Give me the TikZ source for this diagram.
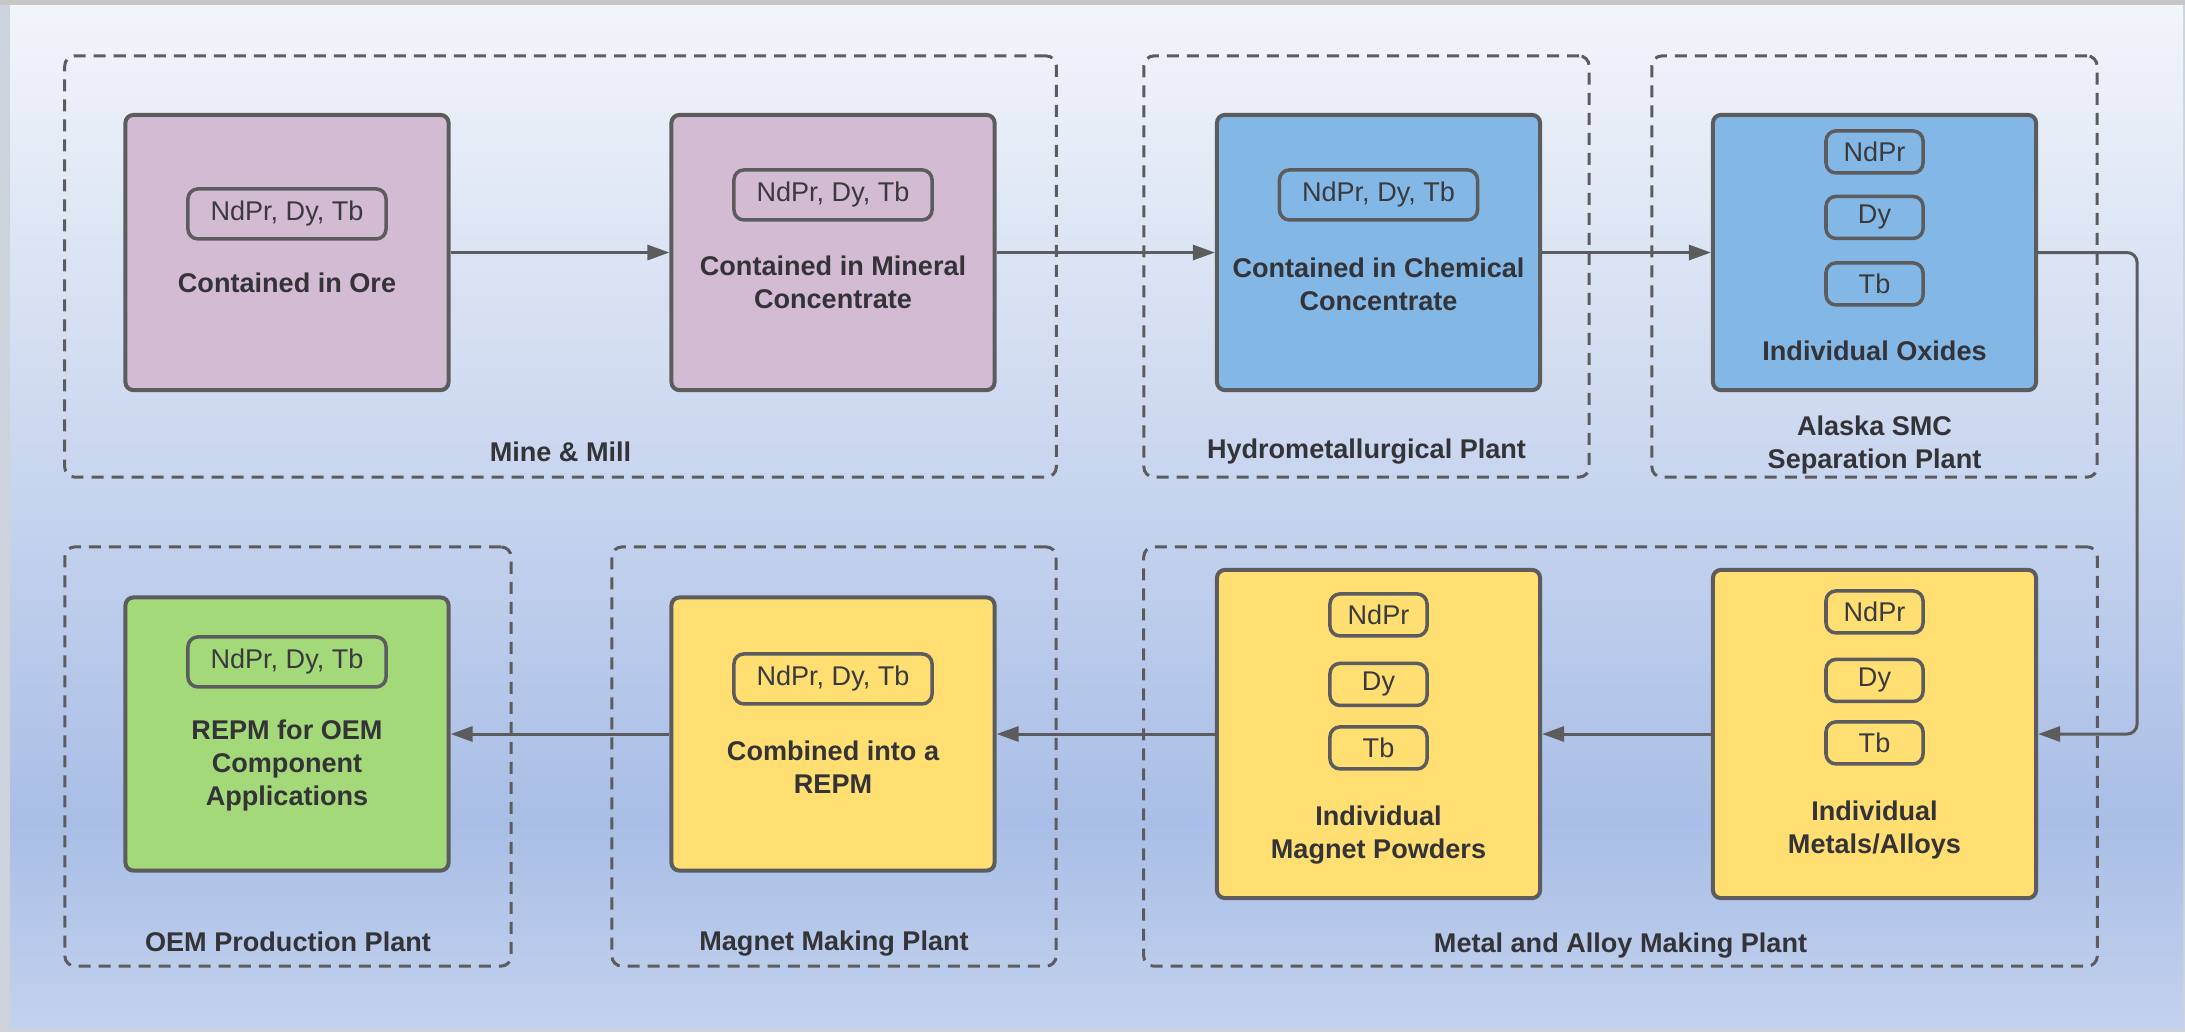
\documentclass[tikz,border=0pt]{standalone}
\usepackage{fontspec}
\setmainfont{Liberation Sans}
\usepackage{xcolor}
\usepackage{tikz}
\usetikzlibrary{positioning,calc}
\usetikzlibrary{arrows.meta,shapes}

\definecolor{edgegray}{HTML}{5C5C5E}
\definecolor{captext}{HTML}{333338}
\definecolor{tagtext}{HTML}{3A3A3E}
\definecolor{orefill}{HTML}{D3BCD3}
\definecolor{chemfill}{HTML}{83B8E6}
\definecolor{metalfill}{HTML}{FFDE72}
\definecolor{oemfill}{HTML}{A3D978}
\definecolor{bgtop}{HTML}{F2F5FA}
\definecolor{bgmid}{HTML}{A9BEE6}
\definecolor{bgbot}{HTML}{C3D2ED}
\definecolor{framegray}{HTML}{CDD3DD}
\pgfdeclareverticalshading{panelshade}{100bp}{color(0bp)=(bgbot); color(25bp)=(bgbot); color(35bp)=(bgmid); color(75bp)=(bgtop); color(100bp)=(bgtop)}

\newcommand{\lblsize}{\fontsize{7.7}{9.4}\selectfont}
\tikzstyle{line} = [draw=edgegray, line width=0.3mm, -{Triangle[length=2.2mm,width=1.5mm]}]
\tikzstyle{plant} = [rectangle, draw=edgegray, line width=0.3mm, dash pattern=on 1.2mm off 0.8mm, rounded corners=1mm]
\tikzstyle{stage} = [rectangle, draw=edgegray, line width=0.4mm, rounded corners=0.8mm, minimum width=3.23cm]
\tikzstyle{tag} = [rectangle, draw=edgegray, line width=0.35mm, rounded corners=1mm, inner sep=0pt, minimum width=1.98cm, minimum height=0.5cm, font=\lblsize, text=tagtext]
\tikzstyle{elem} = [tag, minimum width=0.97cm, minimum height=0.42cm]
\tikzstyle{caption} = [align=center, font=\lblsize\bfseries, text=captext]

\begin{document}
\begin{tikzpicture}[x=0.01cm,y=-0.01cm]
        \useasboundingbox (0,0) rectangle (2185,1032);
        % backdrop
        \fill[framegray] (0,0) rectangle (2185,1032);
        \fill[gray!45] (0,0) rectangle (2185,5);
        \shade[shading=panelshade] (10,5) rectangle (2183,1028);

        % plants
        \node[plant,minimum width=9.91cm,minimum height=4.21cm] (mine) at (560.5,266.5) {};
        \node[plant,minimum width=4.45cm,minimum height=4.21cm] (hydro) at (1366.5,266.5) {};
        \node[plant,minimum width=4.45cm,minimum height=4.21cm] (sep) at (1874.5,266.5) {};
        \node[plant,minimum width=4.46cm,minimum height=4.19cm] (oemplant) at (288,756.5) {};
        \node[plant,minimum width=4.44cm,minimum height=4.19cm] (magnet) at (834,756.5) {};
        \node[plant,minimum width=9.53cm,minimum height=4.19cm] (alloy) at (1620.5,756.5) {};
        \node[caption] at ($(mine.south)+(0,-27)$) {Mine \& Mill};
        \node[caption] at ($(hydro.south)+(0,-27)$) {Hydrometallurgical Plant};
        \node[caption] at ($(sep.south)+(0,-34)$) {Alaska SMC\\Separation Plant};
        \node[caption] at ($(oemplant.south)+(0,-26)$) {OEM Production Plant};
        \node[caption] at ($(magnet.south)+(0,-24)$) {Magnet Making Plant};
        \node[caption] at ($(alloy.south)+(0,-22)$) {Metal and Alloy Making Plant};

        % top row
        \node[stage,fill=orefill,minimum height=2.75cm] (ore) at (287,252.5) {};
        \node[tag] (oretag) at ($(ore.north)+(0,101)$) {NdPr, Dy, Tb};
        \node[caption] at ($(ore.north)+(0,170)$) {Contained in Ore};

        \node[stage,fill=orefill,minimum height=2.75cm] (mineral) at (833,252.5) {};
        \node[tag] (mineraltag) at ($(mineral.north)+(0,82)$) {NdPr, Dy, Tb};
        \node[caption] at ($(mineral.north)+(0,169)$) {Contained in Mineral\\Concentrate};

        \node[stage,fill=chemfill,minimum height=2.75cm] (chem) at (1378.5,252.5) {};
        \node[tag] (chemtag) at ($(chem.north)+(0,82)$) {NdPr, Dy, Tb};
        \node[caption] at ($(chem.north)+(0,171)$) {Contained in Chemical\\Concentrate};

        \node[stage,fill=chemfill,minimum height=2.75cm] (oxides) at (1874.5,252.5) {};
        \node[elem] (oxnd) at ($(oxides.north)+(0,39)$) {NdPr};
        \node[elem] (oxdy) at ($(oxides.north)+(0,104.5)$) {Dy};
        \node[elem] (oxtb) at ($(oxides.north)+(0,171)$) {Tb};
        \node[caption] at ($(oxides.north)+(0,238)$) {Individual Oxides};

        % bottom row
        \node[stage,fill=metalfill,minimum height=3.28cm] (metals) at (1874.5,734) {};
        \node[elem] (mend) at ($(metals.north)+(0,44)$) {NdPr};
        \node[elem] (medy) at ($(metals.north)+(0,112.5)$) {Dy};
        \node[elem] (metb) at ($(metals.north)+(0,175)$) {Tb};
        \node[caption] at ($(metals.north)+(0,262)$) {Individual\\Metals/Alloys};

        \node[stage,fill=metalfill,minimum height=3.28cm] (powders) at (1378.5,734) {};
        \node[elem] (pwnd) at ($(powders.north)+(0,47)$) {NdPr};
        \node[elem] (pwdy) at ($(powders.north)+(0,116.5)$) {Dy};
        \node[elem] (pwtb) at ($(powders.north)+(0,180)$) {Tb};
        \node[caption] at ($(powders.north)+(0,267.5)$) {Individual\\Magnet Powders};

        \node[stage,fill=metalfill,minimum height=2.73cm] (repm) at (833,734) {};
        \node[tag] (repmtag) at ($(repm.north)+(0,83.5)$) {NdPr, Dy, Tb};
        \node[caption] at ($(repm.north)+(0,172)$) {Combined into a\\REPM};

        \node[stage,fill=oemfill,minimum height=2.73cm] (oem) at (287,734) {};
        \node[tag] (oemtag) at ($(oem.north)+(0,66.5)$) {NdPr, Dy, Tb};
        \node[caption] at ($(oem.north)+(0,170)$) {REPM for OEM\\Component\\Applications};

        % flow
        \draw[line] (ore) -- (mineral);
        \draw[line] (mineral) -- (chem);
        \draw[line] (chem) -- (oxides);
        \draw[line,rounded corners=1mm] (oxides.east) -- ++(99,0) |- (metals.east);
        \draw[line] (metals) -- (powders);
        \draw[line] (powders) -- (repm);
        \draw[line] (repm) -- (oem);
    \end{tikzpicture}
\end{document}
